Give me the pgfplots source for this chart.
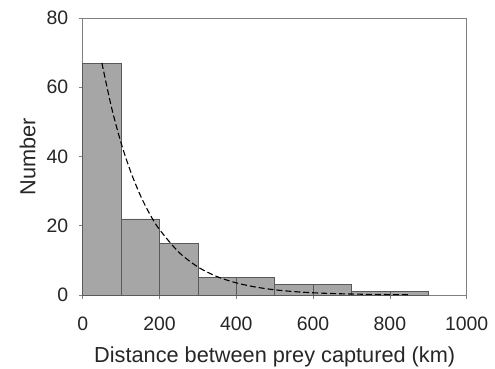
\documentclass[border=0pt]{standalone}
\usepackage{pgfplots}
\pgfplotsset{compat=1.18}
\usepackage{fontspec}
\setmainfont{Liberation Sans}
\definecolor{barfill}{HTML}{A6A6A6}
\definecolor{baredge}{HTML}{5A5A5A}
\definecolor{axgray}{HTML}{808080}
\begin{document}
\begin{tikzpicture}
\begin{axis}[
  scale only axis,
  width=384bp, height=277bp,
  xmin=0, xmax=1000, ymin=0, ymax=80,
  xtick={0,200,400,600,800,1000},
  ytick={0,20,40,60,80},
  xtick pos=bottom, ytick pos=left,
  tick align=outside,
  major tick length=4bp,
  tick style={axgray, line width=0.8pt},
  axis line style={axgray, line width=0.8pt},
  x axis line style={black!70},
  /pgf/number format/assume math mode=true,
  /pgf/number format/1000 sep={},
  ticklabel style={font=\fontsize{19.5}{23}\selectfont, text=black!85},
  xticklabel style={yshift=-14bp},
  yticklabel style={xshift=-7bp},
  xlabel={Distance between prey captured (km)},
  ylabel={Number},
  label style={font=\fontsize{21.8}{26}\selectfont, text=black!85},
  xlabel style={at={(axis description cs:0.5,-0.175)}, anchor=north},
  ylabel style={at={(axis description cs:-0.1138,0.5)}, anchor=south},
  clip=false,
]
\addplot[ybar interval, fill=barfill, draw=baredge, line width=0.5pt] coordinates {
  (0,67) (100,22) (200,15) (300,5) (400,5) (500,3) (600,3) (700,1) (800,1) (900,1)
};
\addplot[black, line width=1.1pt, smooth, dash pattern=on 6pt off 3pt] coordinates {
  (50,67) (75,54.2) (100,43.9) (125,35.6) (150,28.8) (175,23.3) (200,18.9)
  (250,12.4) (300,8.1) (350,5.3) (400,3.5) (450,2.3) (500,1.5) (550,0.98)
  (600,0.64) (650,0.42) (700,0.28) (750,0.18) (800,0.12) (850,0.08)
};
\end{axis}
\pgfresetboundingbox
\useasboundingbox (current axis.south west) ++(-82.7bp,-73.3bp) rectangle ([shift={(28.3bp,18bp)}]current axis.north east);
\end{tikzpicture}
\end{document}
